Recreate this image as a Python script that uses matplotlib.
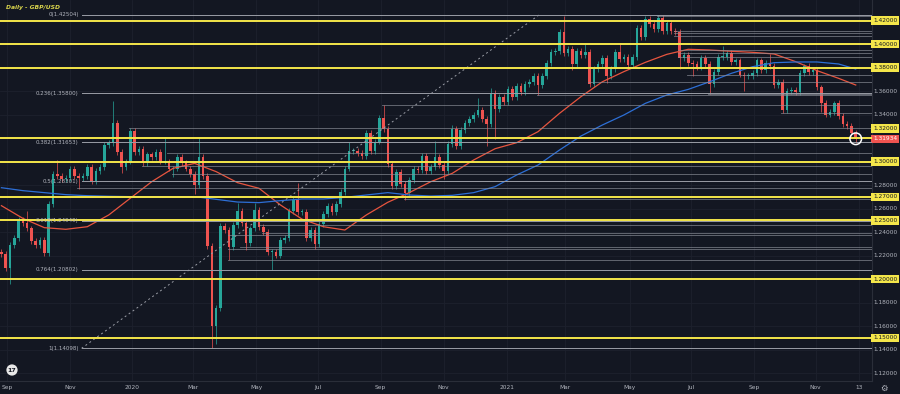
import numpy as np
import pandas as pd
import matplotlib
matplotlib.use('Agg')
import matplotlib.pyplot as plt
import matplotlib.transforms as mtrans

# one candle = 3 business days, close
first_open = 1.2230
closes = [
    1.2210, 1.2090, 1.2290, 1.2350, 1.2500, 1.2480, 1.2430, 1.2320, 1.2290, 1.2330,
    1.2220, 1.2640, 1.2890, 1.2880, 1.2850, 1.2860, 1.2940, 1.2880, 1.2860, 1.2880,
    1.2950, 1.2830, 1.2920, 1.2950, 1.3140, 1.3160, 1.3330, 1.3080, 1.2950, 1.3000,
    1.3260, 1.3080, 1.3110, 1.2990, 1.3060, 1.3040, 1.3080, 1.3000, 1.3000, 1.2940,
    1.2940, 1.3040, 1.2990, 1.2940, 1.2890, 1.2800, 1.3040, 1.2880, 1.2280, 1.1600,
    1.1750, 1.2450, 1.2420, 1.2270, 1.2460, 1.2580, 1.2480, 1.2310, 1.2430, 1.2590,
    1.2440, 1.2400, 1.2230, 1.2230, 1.2200, 1.2330, 1.2350, 1.2580, 1.2670, 1.2570,
    1.2570, 1.2350, 1.2420, 1.2300, 1.2470, 1.2550, 1.2620, 1.2570, 1.2640, 1.2740,
    1.2940, 1.3090, 1.3090, 1.3070, 1.3050, 1.3240, 1.3090, 1.3170, 1.3370, 1.3280,
    1.2980, 1.2790, 1.2910, 1.2810, 1.2730, 1.2840, 1.2940, 1.2930, 1.3050, 1.2920,
    1.2950, 1.3040, 1.2970, 1.2920, 1.3150, 1.3280, 1.3130, 1.3270, 1.3330, 1.3360,
    1.3400, 1.3440, 1.3360, 1.3320, 1.3580, 1.3450, 1.3550, 1.3510, 1.3620, 1.3550,
    1.3640, 1.3590, 1.3660, 1.3680, 1.3730, 1.3650, 1.3730, 1.3840, 1.3930, 1.3940,
    1.4100, 1.3920, 1.3960, 1.3830, 1.3940, 1.3910, 1.3930, 1.3660, 1.3790, 1.3830,
    1.3880, 1.3730, 1.3790, 1.3930, 1.3870, 1.3890, 1.3820, 1.3890, 1.4140, 1.4060,
    1.4210, 1.4170, 1.4130, 1.4220, 1.4110, 1.4180, 1.4110, 1.4100, 1.3880, 1.3910,
    1.3840, 1.3830, 1.3800, 1.3880, 1.3830, 1.3660, 1.3760, 1.3890, 1.3890, 1.3920,
    1.3850, 1.3860, 1.3740, 1.3730, 1.3730, 1.3750, 1.3860, 1.3780, 1.3840, 1.3810,
    1.3650, 1.3680, 1.3440, 1.3600, 1.3610, 1.3590, 1.3750, 1.3810, 1.3760, 1.3780,
    1.3630, 1.3500, 1.3400, 1.3420, 1.3500, 1.3390, 1.3320, 1.3300, 1.3240, 1.31934,
]
# notable wick extremes (candle number -> price)
highs = {6: 1.2582, 13: 1.3013, 26: 1.3514, 30: 1.3285, 38: 1.3208, 46: 1.3200,
         55: 1.2647, 59: 1.2643, 69: 1.2813, 81: 1.3170, 85: 1.3267, 89: 1.3482,
         101: 1.3177, 105: 1.3313, 111: 1.3540, 114: 1.3625, 131: 1.4241,
         136: 1.4001, 144: 1.4009, 154: 1.4250, 168: 1.3984, 179: 1.3913,
         187: 1.3834, 194: 1.3514}
lows = {2: 1.1959, 10: 1.2195, 18: 1.2769, 28: 1.2905, 40: 1.2870, 45: 1.2725,
        49: 1.1409, 50: 1.1451, 53: 1.2165, 57: 1.2247, 63: 1.2076, 73: 1.2252,
        91: 1.2762, 94: 1.2676, 103: 1.2854, 113: 1.3135, 115: 1.3188,
        125: 1.3566, 133: 1.3778, 141: 1.3669, 158: 1.3786, 161: 1.3731,
        165: 1.3572, 173: 1.3602, 182: 1.3412, 191: 1.3425, 199: 1.3160}

# moving averages sampled every 5 candles
ma_k = list(range(0, 200, 5)) + [199]
ma100 = [1.2624, 1.2516, 1.2437, 1.2423, 1.2445, 1.2545, 1.2687, 1.2828, 1.2942, 1.2984,
         1.2914, 1.2820, 1.2772, 1.2630, 1.2510, 1.2445, 1.2417, 1.2545, 1.2653, 1.2735,
         1.2828, 1.2899, 1.3013, 1.3109, 1.3160, 1.3254, 1.3410, 1.3552, 1.3679, 1.3765,
         1.3844, 1.3912, 1.3955, 1.3949, 1.3938, 1.3929, 1.3915, 1.3850, 1.3773, 1.3708,
         1.3651]
ma200 = [1.2777, 1.2752, 1.2735, 1.2718, 1.2709, 1.2704, 1.2701, 1.2701, 1.2701, 1.2701,
         1.2678, 1.2655, 1.2650, 1.2667, 1.2681, 1.2681, 1.2695, 1.2715, 1.2735, 1.2715,
         1.2706, 1.2712, 1.2735, 1.2786, 1.2885, 1.2970, 1.3098, 1.3217, 1.3311, 1.3396,
         1.3495, 1.3566, 1.3614, 1.3679, 1.3750, 1.3807, 1.3841, 1.3847, 1.3847, 1.3830,
         1.3787]

yellow_levels = [1.42, 1.40, 1.38, 1.32, 1.30, 1.27, 1.25, 1.20, 1.15]
fib_ratios = ['0', '0.236', '0.382', '0.5', '0.618', '0.764', '1']
fib_prices = [1.42504, 1.35800, 1.31653, 1.28301, 1.24949, 1.20802, 1.14098]
fib_start = '2019-11-13'
fib_end = '2021-02-03'

# grey support / resistance rays: starting candle, price
ray_k = [30, 39, 33, 40, 18, 60, 61, 53, 56, 53, 53, 89, 94, 125, 182, 165, 137,
         160, 158, 158, 158, 157, 157, 157, 153]
ray_price = [1.3283, 1.3070, 1.2964, 1.2894, 1.2772, 1.2460, 1.2394, 1.2374, 1.2275,
             1.2253, 1.2162, 1.3481, 1.2678, 1.3566, 1.3410, 1.3575, 1.3679, 1.3736,
             1.3892, 1.3921, 1.3949, 1.4070, 1.4090, 1.4110, 1.4236]

price_ticks = [1.42, 1.40, 1.38, 1.36, 1.34, 1.32, 1.30, 1.28, 1.27, 1.26, 1.25, 1.24,
               1.22, 1.20, 1.18, 1.16, 1.15, 1.14, 1.12]
last_price = 1.31934

month_labels = ['Sep', 'Nov', '2020', 'Mar', 'May', 'Jul', 'Sep', 'Nov',
                '2021', 'Mar', 'May', 'Jul', 'Sep', 'Nov', '13']
month_dates = ['2019-09-02', '2019-11-01', '2020-01-01', '2020-03-02', '2020-05-01',
               '2020-07-01', '2020-09-01', '2020-11-02', '2021-01-01', '2021-03-01',
               '2021-05-03', '2021-07-01', '2021-09-01', '2021-11-01', '2021-12-13']

BG = '#131722'
TXT = '#b2b5be'
UP = '#26a69a'
DOWN = '#ef5350'
YEL = '#f4e64a'
GREY = '#8e919a'

bdays = pd.bdate_range('2019-08-26', '2021-12-31')


def bday_idx(d):
    return bdays.get_loc(pd.Timestamp(d))


plt.rcParams['font.family'] = ['DejaVu Sans']
fig = plt.figure(figsize=(9, 3.94), dpi=100, facecolor=BG)
ax = fig.add_axes([0, 13 / 394, 872 / 900, 381 / 394], facecolor=BG)

# candles
c = np.array(closes)
o = np.array([first_open] + closes[:-1])
x = 3 * np.arange(len(c)) + 1
hi = np.maximum(o, c) + 0.0025
lo = np.minimum(o, c) - 0.0025
for k, v in highs.items():
    hi[k] = v
for k, v in lows.items():
    lo[k] = v
cols = np.where(c >= o, UP, DOWN)
ax.vlines(x, lo, hi, colors=cols, lw=0.5, zorder=2)
body = np.maximum(np.abs(c - o), 0.0006)
ax.bar(x, body, bottom=np.minimum(o, c), width=1.8, color=cols, lw=0, zorder=2)

# moving averages
mx = 3 * np.array(ma_k) + 1
ax.plot(mx, ma100, color='#e8553f', lw=0.9, zorder=3)
ax.plot(mx, ma200, color='#2d6fd6', lw=0.9, zorder=3)

xmax = 872 / 1.431
# rays
for k, p in zip(ray_k, ray_price):
    ax.plot([3 * k, xmax], [p, p], color=GREY, lw=0.6, alpha=0.75, zorder=4)

# fib retracement
fs, fe = bday_idx(fib_start), bday_idx(fib_end)
for r, p in zip(fib_ratios, fib_prices):
    ax.plot([fs, xmax], [p, p], color='#9a9da6', lw=0.7, zorder=4)
    ax.annotate(f'{r}({p:.5f})', (fs, p), xytext=(-2, 0), textcoords='offset points',
                ha='right', va='center', fontsize=4.0, color=TXT, zorder=6)
ax.plot([fs, fe], [fib_prices[-1], fib_prices[0]], color='#9a9da6', lw=0.7,
        ls=(0, (2, 3)), zorder=4)

# yellow horizontal levels
for p in yellow_levels:
    ax.axhline(p, color=YEL, lw=1.4, zorder=5)

# last price marker
ax.scatter([x[-1]], [last_price], s=70, facecolors='none', edgecolors='white',
           lw=1.1, zorder=7)

ax.set_xlim(0, xmax)
ax.set_ylim(1.43745 - 381 / 1175, 1.43745)

# grid and axes
ax.set_xticks([bday_idx(d) for d in month_dates], month_labels)
ax.set_yticks(np.arange(1.12, 1.43, 0.02))
ax.set_yticklabels([])
ax.tick_params(axis='x', colors=TXT, labelsize=4.2, length=0, pad=3)
ax.tick_params(axis='y', length=0)
ax.grid(True, color='#1d212d', lw=0.6, zorder=0)
for s in ['top', 'left']:
    ax.spines[s].set_visible(False)
for s in ['right', 'bottom']:
    ax.spines[s].set_color('#2a2e39')
    ax.spines[s].set_linewidth(0.8)

# right price scale labels
tr = mtrans.blended_transform_factory(ax.transAxes, ax.transData)
label_shift = {1.32: 7.0}
for p in price_ticks:
    is_yel = any(abs(p - y) < 1e-9 for y in yellow_levels)
    kw = dict(fontsize=4.2, ha='center', va='center', annotation_clip=False, zorder=8)
    if is_yel:
        kw['bbox'] = dict(boxstyle='square,pad=0.3', fc=YEL, ec='none')
        kw['color'] = BG
    else:
        kw['color'] = TXT
    ax.annotate(f'{p:.5f}', (1.0, p), xycoords=tr,
                xytext=(9.4, label_shift.get(p, 0)), textcoords='offset points', **kw)
ax.annotate(f'{last_price:.5f}', (1.0, last_price), xycoords=tr, xytext=(9.4, 0),
            textcoords='offset points', fontsize=4.2, ha='center', va='center',
            color='white', annotation_clip=False,
            bbox=dict(boxstyle='square,pad=0.3', fc=DOWN, ec='none'))

# header and corner marks
ax.text(6 / 872, 1 - 7 / 381, 'Daily - GBP/USD', transform=ax.transAxes,
        fontsize=4.3, color='#d9d44c', fontweight='bold', fontstyle='italic',
        ha='left', va='center')
ax.text(12 / 872, 1 - 370 / 381, '17', transform=ax.transAxes, fontsize=4.5,
        color=BG, fontweight='bold', ha='center', va='center', zorder=8,
        bbox=dict(boxstyle='circle,pad=0.2', fc='#e8e8e8', ec='none'))
fig.text(884 / 900, 1 - 388 / 394, '\u2699', fontsize=6, color=TXT,
         ha='center', va='center')

fig.savefig('out.png', dpi=100, facecolor=BG)
